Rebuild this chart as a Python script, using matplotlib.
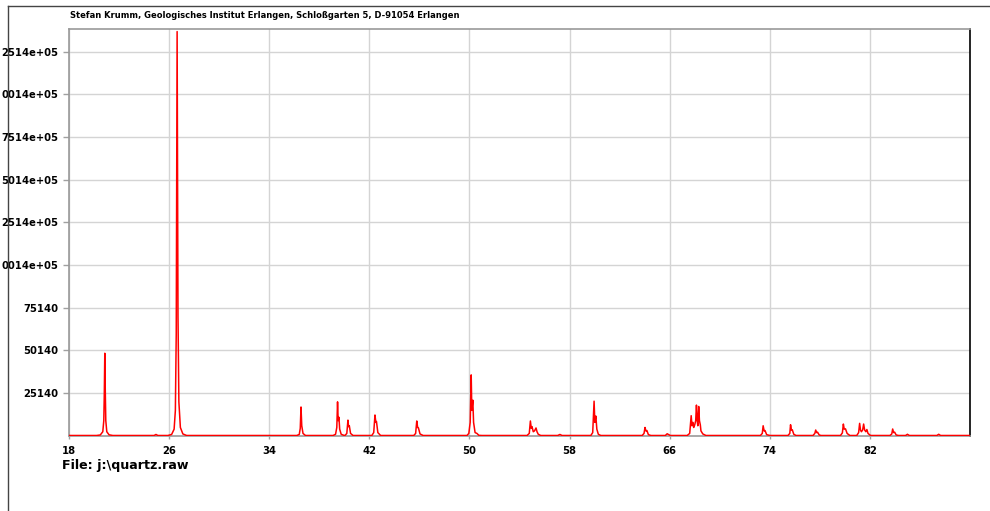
# recreation of an old XRD scan printout (quartz, Cu K-alpha)
import matplotlib
matplotlib.use("Agg")
import matplotlib.pyplot as plt
from matplotlib.lines import Line2D

plt.rcParams["font.family"] = ["DejaVu Sans"]

# trace: 2-theta and counts
two_theta = [
    18.0, 20.2, 20.5, 20.7, 20.78, 20.82, 20.86, 20.9, 20.94, 21.02, 21.2, 21.5,
    24.8, 24.95, 25.1,
    25.9, 26.2, 26.4, 26.5, 26.57, 26.61, 26.64, 26.67, 26.71, 26.78, 26.9, 27.1, 27.4,
    36.2, 36.4, 36.48, 36.54, 36.6, 36.7, 36.9,
    39.1, 39.3, 39.4, 39.46, 39.51, 39.57, 39.63, 39.75, 40.0,
    40.05, 40.2, 40.29, 40.34, 40.4, 40.5, 40.7,
    42.2, 42.35, 42.45, 42.52, 42.57, 42.68, 42.9,
    45.55, 45.7, 45.79, 45.86, 45.92, 46.05, 46.3,
    49.8, 49.95, 50.06, 50.14, 50.19, 50.27, 50.33, 50.45, 50.6, 50.75, 51.0,
    54.6, 54.78, 54.87, 54.94, 55.0, 55.1, 55.2, 55.32, 55.4, 55.5, 55.7,
    57.05, 57.23, 57.4,
    59.7, 59.85, 59.96, 60.02, 60.1, 60.18, 60.3, 60.5,
    63.8, 63.95, 64.03, 64.1, 64.18, 64.3, 64.5,
    65.65, 65.8, 65.9, 66.05,
    67.4, 67.6, 67.72, 67.78, 67.85, 67.92, 68.0, 68.08, 68.14, 68.2, 68.25,
    68.32, 68.38, 68.45, 68.5, 68.65, 68.9,
    73.25, 73.4, 73.47, 73.55, 73.62, 73.75, 74.0,
    75.45, 75.6, 75.66, 75.73, 75.8, 75.92, 76.1,
    77.45, 77.6, 77.67, 77.75, 77.82, 77.95, 78.1,
    79.65, 79.8, 79.88, 79.95, 80.05, 80.18, 80.4,
    80.95, 81.1, 81.18, 81.25, 81.32, 81.42, 81.5, 81.58, 81.68, 81.76, 81.85, 82.05,
    83.6, 83.75, 83.82, 83.9, 83.98, 84.1, 84.3,
    84.85, 85.0, 85.15,
    87.35, 87.5, 87.65,
    90.0,
]
counts = [
    300, 300, 600, 2500, 9000, 24000, 48500, 26000, 9000, 2500, 700, 300,
    300, 900, 300,
    300, 900, 4000, 15000, 60000, 160000, 237000, 170000, 70000, 20000, 5000, 1200, 300,
    300, 900, 4500, 17000, 6000, 1500, 300,
    300, 1000, 5000, 20000, 9000, 11000, 4000, 1000, 300,
    300, 1500, 9300, 5500, 6000, 1500, 300,
    300, 2000, 12300, 8000, 8500, 2000, 300,
    300, 1500, 8800, 5000, 4800, 1200, 300,
    300, 1500, 8000, 35800, 15000, 21000, 8000, 2000, 1500, 400, 300,
    300, 1500, 8800, 4500, 5500, 2500, 3000, 4700, 2500, 1000, 300,
    300, 900, 300,
    300, 2000, 20400, 8000, 11700, 4000, 1000, 300,
    300, 1500, 5000, 3000, 3200, 800, 300,
    300, 1300, 900, 300,
    300, 1500, 11900, 6000, 8000, 5000, 6500, 9000, 18100, 9000, 6000,
    17300, 9000, 6500, 3000, 1200, 300,
    300, 1500, 6000, 3000, 3200, 800, 300,
    300, 1500, 6600, 3500, 3600, 1000, 300,
    300, 1500, 3500, 2000, 2200, 600, 300,
    300, 1800, 7000, 4000, 4200, 1500, 300,
    300, 2000, 7400, 3500, 2500, 3500, 7000, 3500, 2500, 3800, 1500, 300,
    300, 1200, 4100, 2000, 2200, 600, 300,
    300, 1000, 300,
    300, 1000, 300,
    300,
]

x_ticks = [18, 26, 34, 42, 50, 58, 66, 74, 82]
y_ticks = [25140, 50140, 75140, 100140, 125140, 150140, 175140, 200140, 225140]
y_labels = ["25140", "50140", "75140", "0014e+05", "2514e+05",
            "5014e+05", "7514e+05", "0014e+05", "2514e+05"]

fig = plt.figure(figsize=(9.9, 5.11), dpi=100)
ax = fig.add_axes([69 / 990, 1 - 436 / 511, 901 / 990, 407 / 511])

ax.plot(two_theta, counts, color="#ff0000", lw=1.1, zorder=3)

ax.set_xlim(18, 90)
ax.set_ylim(0, 238500)
ax.set_xticks(x_ticks)
ax.set_xticklabels([str(t) for t in x_ticks])
ax.set_yticks(y_ticks)
ax.set_yticklabels(y_labels)

ax.grid(True, color="#d4d4d4", lw=1.0, zorder=0)
ax.set_axisbelow(True)
ax.tick_params(axis="both", colors="#a0a0a0", length=4, width=1,
               labelcolor="black", labelsize=7.2)
ax.tick_params(axis="x", length=2, pad=5)
ax.tick_params(axis="y", pad=4)
for lab in ax.get_xticklabels() + ax.get_yticklabels():
    lab.set_fontweight("bold")

ax.spines["left"].set_color("#999999")
ax.spines["top"].set_color("#999999")
ax.spines["right"].set_color("black")
ax.spines["bottom"].set_color("#999999")
for s in ax.spines.values():
    s.set_linewidth(1.2)

# outer page frame
fig.add_artist(Line2D([8 / 990, 1], [1 - 6 / 511, 1 - 6 / 511], color="#444444", lw=1.0))
fig.add_artist(Line2D([8 / 990, 8 / 990], [0, 1 - 6 / 511], color="#444444", lw=1.0))

fig.text(70 / 990, 1 - 15 / 511,
         "Stefan Krumm, Geologisches Institut Erlangen, Schloßgarten 5, D-91054 Erlangen",
         fontsize=6.0, fontweight="bold", va="center", ha="left")
fig.text(62 / 990, 1 - 466 / 511, "File: j:\\quartz.raw",
         fontsize=9.1, fontweight="bold", va="center", ha="left")

fig.savefig("out.png", dpi=100)
